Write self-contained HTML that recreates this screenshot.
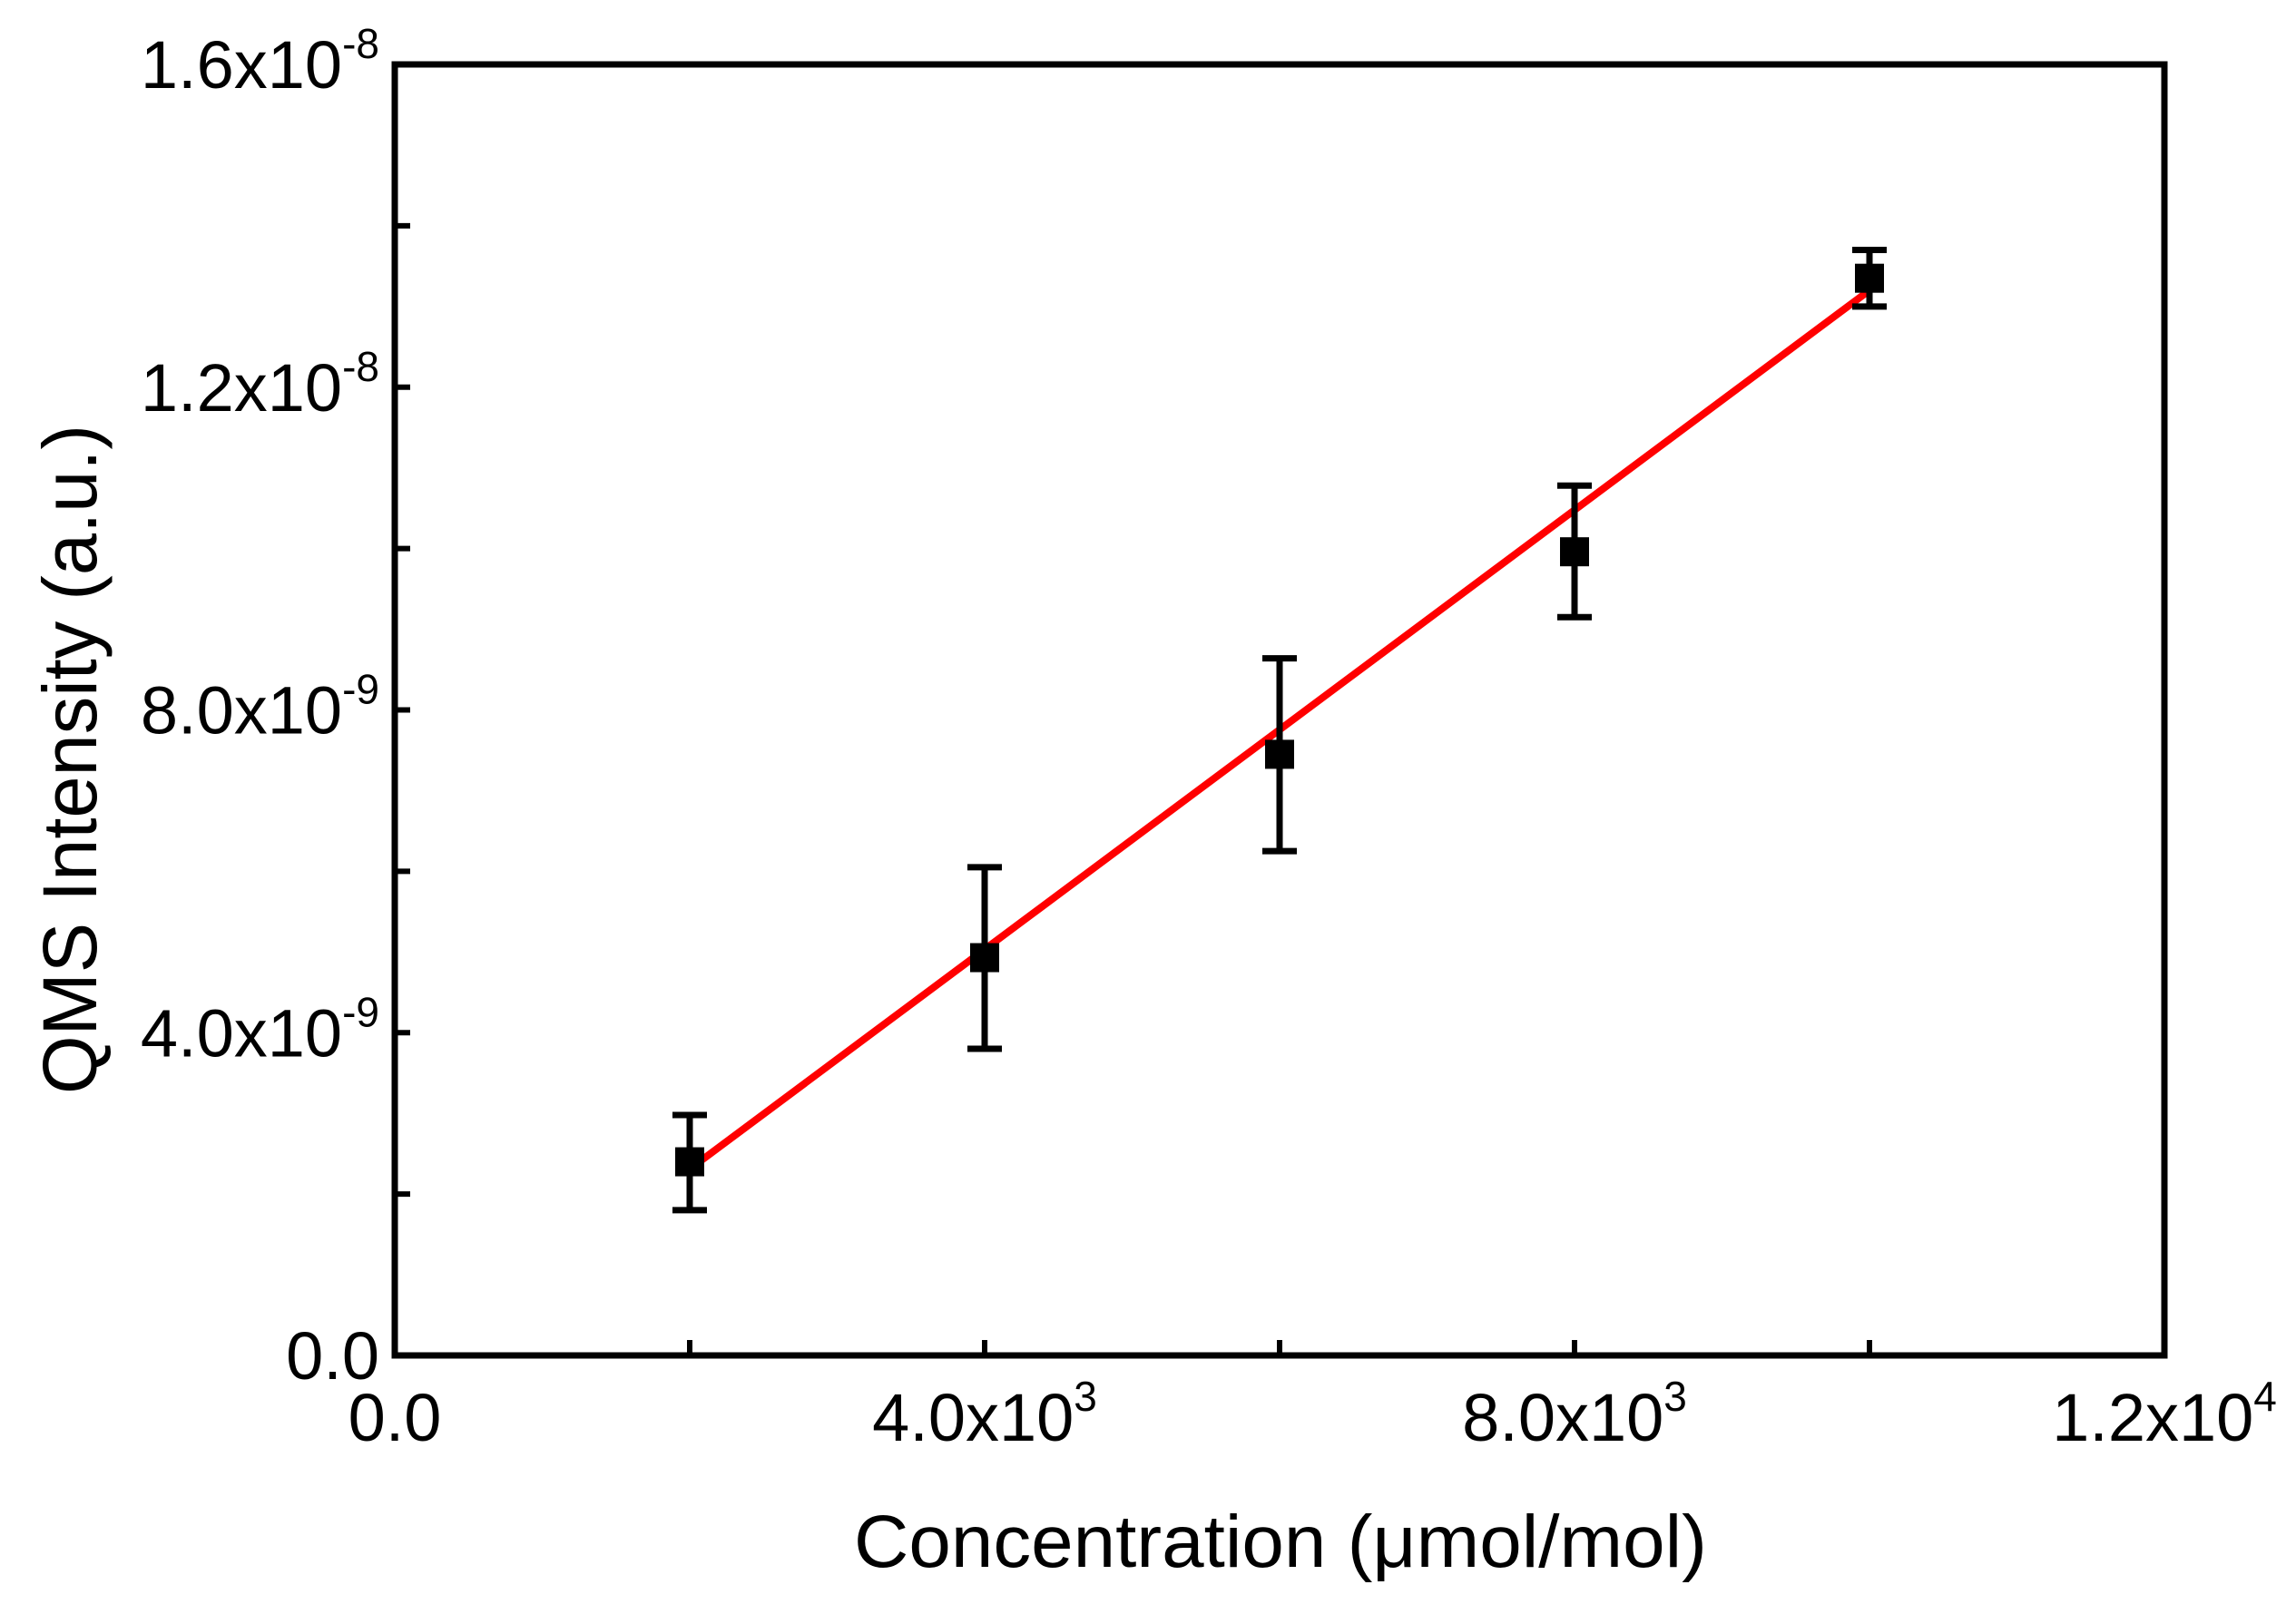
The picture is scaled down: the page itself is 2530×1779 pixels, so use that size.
<!DOCTYPE html>
<html><head><meta charset="utf-8"><style>
html,body{margin:0;padding:0;background:#fff;}
svg{display:block;font-family:"Liberation Sans",Arial,sans-serif;}
</style></head><body>
<svg id="chart" width="2530" height="1779" viewBox="0 0 2530 1779" xmlns="http://www.w3.org/2000/svg">
</svg>
<script>
const xValues=[2000,4000,6000,8000,10000];
const yValues=[2.4e-9,4.93e-9,7.45e-9,9.96e-9,1.335e-8];
const yErrHigh=[2.98e-9,6.05e-9,8.64e-9,1.078e-8,1.37e-8];
const yErrLow=[1.8e-9,3.8e-9,6.25e-9,9.15e-9,1.3e-8];
const fitX=[2000,10000];
const fitY=[2.31e-9,1.32e-8];
const xTickVals=[0,4000,8000,12000];
const xTickMant=["0.0","4.0x10","8.0x10","1.2x10"];
const xTickExp=["","3","3","4"];
const yTickVals=[0,4e-9,8e-9,1.2e-8,1.6e-8];
const yTickMant=["0.0","4.0x10","8.0x10","1.2x10","1.6x10"];
const yTickExp=["","-9","-9","-8","-8"];

const L=435,R=2385,T=71,B=1494;
const sx=v=>L+(v-0)/12000*(R-L);
const sy=v=>B-(v-0)/1.6e-8*(B-T);
const svg=document.getElementById('chart');
const NS='http://www.w3.org/2000/svg';
function mk(tag,attrs,parent){const e=document.createElementNS(NS,tag);for(const k in attrs)e.setAttribute(k,attrs[k]);(parent||svg).appendChild(e);return e;}

for(let v=0;v<=12000;v+=2000){const t=mk('line',{x1:sx(v),x2:sx(v),y1:B,y2:B-17,stroke:'#000','stroke-width':6});

}
for(let i=0;i<=8;i++){const v=i*2e-9;const t=mk('line',{x1:L,x2:L+17,y1:sy(v),y2:sy(v),stroke:'#000','stroke-width':6});

}

const fit=mk('line',{x1:sx(fitX[0]),y1:sy(fitY[0]),x2:sx(fitX[1]),y2:sy(fitY[1]),stroke:'#f00','stroke-width':8});



xValues.forEach((x,i)=>{
  const g=mk('g',{});
  
  
  const cx=sx(x);
  mk('line',{x1:cx,x2:cx,y1:sy(yErrHigh[i]),y2:sy(yErrLow[i]),stroke:'#000','stroke-width':7},g);
  mk('line',{x1:cx-19,x2:cx+19,y1:sy(yErrHigh[i]),y2:sy(yErrHigh[i]),stroke:'#000','stroke-width':7},g);
  mk('line',{x1:cx-19,x2:cx+19,y1:sy(yErrLow[i]),y2:sy(yErrLow[i]),stroke:'#000','stroke-width':7},g);
  mk('rect',{x:cx-16,y:sy(yValues[i])-16,width:32,height:32,fill:'#000'},g);
});

const fr=mk('rect',{x:L,y:T,width:R-L,height:B-T,fill:'none',stroke:'#000','stroke-width':7});



xTickVals.forEach((v,i)=>{
  const t=mk('text',{x:sx(v),y:1588,'font-size':74,'text-anchor':'middle'});
  
  
  t.textContent=xTickMant[i];
  if(xTickExp[i]){const s=mk('tspan',{dy:-33,'font-size':46},t);s.textContent=xTickExp[i];}
});
yTickVals.forEach((v,i)=>{
  const t=mk('text',{x:418,y:sy(v)+26,'font-size':74,'text-anchor':'end'});
  
  
  t.textContent=yTickMant[i];
  if(yTickExp[i]){const s=mk('tspan',{dy:-33,'font-size':46},t);s.textContent=yTickExp[i];}
});

const xt=mk('text',{x:1411,y:1727,'font-size':82,'text-anchor':'middle',textLength:940,lengthAdjust:'spacingAndGlyphs'});


xt.textContent='Concentration (\u03bcmol/mol)';
const yt=mk('text',{x:0,y:0,'font-size':84,'text-anchor':'middle',textLength:738,lengthAdjust:'spacingAndGlyphs',transform:'translate(106,837) rotate(-90)'});


yt.textContent='QMS Intensity (a.u.)';
</script>
</body></html>
